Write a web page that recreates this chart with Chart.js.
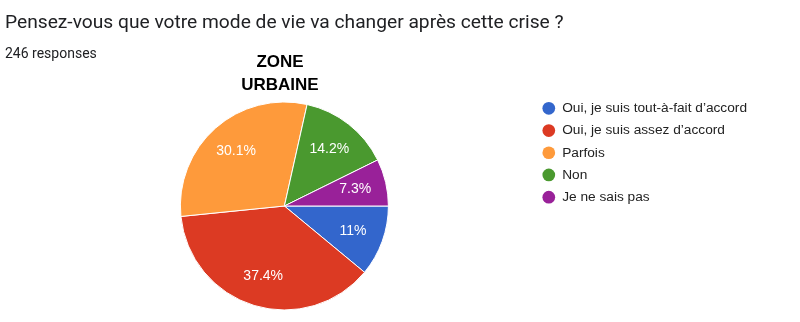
<!DOCTYPE html>
<html>
<head>
<meta charset="utf-8">
<script src="https://cdn.jsdelivr.net/npm/chart.js@4/dist/chart.umd.min.js"></script>
<style>
  body { margin: 0; background: #fff; }
  #wrap { position: relative; width: 800px; height: 322px; overflow: hidden; }
  #chart { position: absolute; left: 0; top: 0; }
  .question { position: absolute; left: 5px; top: 12px; font: 19.2px/20px Roboto, sans-serif; color: #202124; white-space: nowrap; }
  .count { position: absolute; left: 5px; top: 45px; font: 14px/16px Roboto, sans-serif; color: #202124; }
  .zone { position: absolute; left: 180px; top: 50px; width: 200px; text-align: center;
          font: bold 17px/23px "Liberation Sans", Arial, sans-serif; color: #000; }
</style>
</head>
<body>
<div id="wrap">
  <canvas id="chart" width="800" height="322"></canvas>
  <div class="question">Pensez-vous que votre mode de vie va changer après cette crise ?</div>
  <div class="count">246 responses</div>
  <div class="zone">ZONE<br>URBAINE</div>
</div>
<script>
const categories = [
  'Oui, je suis tout-à-fait d’accord',
  'Oui, je suis assez d’accord',
  'Parfois',
  'Non',
  'Je ne sais pas'
]
const percents = [11, 37.4, 30.1, 14.2, 7.3]
const sliceColors = ['#3366cc', '#dc3a23', '#fe9a3b', '#4a992f', '#992199']

// white percentage text inside each slice
const sliceLabels = {
  id: 'sliceLabels',
  afterDatasetsDraw(chart) {
    const ctx = chart.ctx
    const meta = chart.getDatasetMeta(0)
    ctx.save()
    ctx.fillStyle = '#fff'
    ctx.font = '14px "Liberation Sans", Arial, sans-serif'
    ctx.textAlign = 'center'
    ctx.textBaseline = 'middle'
    meta.data.forEach((arc, i) => {
      const p = arc.getProps(['x', 'y', 'startAngle', 'endAngle', 'outerRadius'])
      const mid = (p.startAngle + p.endAngle) / 2
      const r = p.outerRadius * 0.7
      ctx.fillText(percents[i] + '%', p.x + Math.cos(mid) * r, p.y + Math.sin(mid) * r)
    })
    ctx.restore()
  }
}

new Chart(document.getElementById('chart'), {
  type: 'pie',
  data: {
    labels: categories,
    datasets: [{
      data: percents,
      backgroundColor: sliceColors,
      borderColor: '#fff',
      borderWidth: 1
    }]
  },
  options: {
    responsive: false,
    devicePixelRatio: 1,
    animation: false,
    rotation: 90,
    radius: 104,
    layout: { padding: { left: 35, right: 43, top: 93, bottom: 3 } },
    plugins: {
      tooltip: { enabled: false },
      legend: {
        position: 'right',
        align: 'start',
        labels: {
          color: '#222',
          font: { family: '"Liberation Sans", Arial, sans-serif', size: 13.7 },
          usePointStyle: true,
          pointStyle: 'circle',
          boxWidth: 13,
          boxHeight: 9,
          padding: 8.5,
          generateLabels(chart) {
            const items = Chart.overrides.pie.plugins.legend.labels.generateLabels(chart)
            items.forEach(it => { it.lineWidth = 0 })
            return items
          }
        }
      }
    }
  },
  plugins: [sliceLabels]
})
</script>
</body>
</html>
